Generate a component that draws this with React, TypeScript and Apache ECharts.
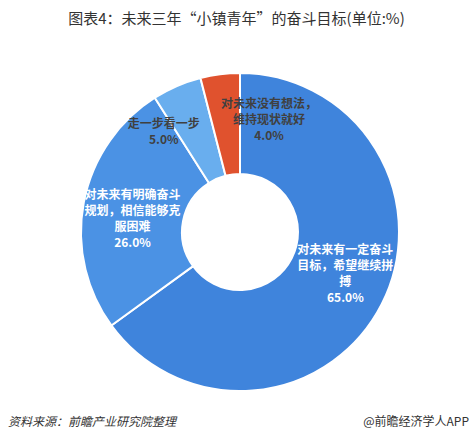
import React, { useEffect, useRef } from "react";
import * as echarts from "echarts";

const categories = [
  "对未来有一定奋斗\n目标，希望继续拼\n搏",
  "对未来有明确奋斗\n规划，相信能够克\n服困难",
  "走一步看一步",
  "对未来没有想法，\n维持现状就好",
];
const values = [65.0, 26.0, 5.0, 4.0];
const colors = ["#3F84DC", "#4B92E4", "#69AEEE", "#E0522E"];
const labelColors = ["#ffffff", "#ffffff", "#404040", "#404040"];
const labelOffsets: [number, number][] = [
  [6, -10],
  [2, 6],
  [-32, 1],
  [43, -3],
];

const title = "图表4：未来三年“小镇青年”的奋斗目标(单位:%)";
const source = "资料来源：前瞻产业研究院整理";
const brand = "@前瞻经济学人APP";

export default function App() {
  const ref = useRef<HTMLDivElement>(null);
  useEffect(() => {
    if (!ref.current) return;
    const chart = echarts.init(ref.current, null, { renderer: "svg" });
    const font = '"Noto Sans CJK SC", "Microsoft YaHei", sans-serif';
    chart.setOption({
      animation: false,
      backgroundColor: "#ffffff",
      title: {
        text: title,
        left: "center",
        top: 5,
        textStyle: { fontSize: 15, fontWeight: "normal", color: "#333333", fontFamily: font },
      },
      graphic: [
        {
          type: "text",
          left: 8,
          top: 414,
          style: { text: source, fontSize: 12, fontStyle: "italic", fill: "#333333", fontFamily: font },
        },
        {
          type: "text",
          right: 4,
          top: 414,
          style: { text: brand, fontSize: 12, fill: "#333333", fontFamily: font },
        },
      ],
      series: [
        {
          type: "pie",
          center: [240, 232],
          radius: [58, 159],
          startAngle: 90,
          clockwise: true,
          avoidLabelOverlap: false,
          itemStyle: { borderColor: "#ffffff", borderWidth: 2 },
          label: {
            show: true,
            position: "inside",
            fontFamily: font,
            fontSize: 12,
            fontWeight: "bold",
            lineHeight: 16,
            formatter: (p: any) => `${p.name}\n${p.value.toFixed(1)}%`,
          },
          labelLine: { show: false },
          data: categories.map((name, i) => ({
            name,
            value: values[i],
            itemStyle: { color: colors[i] },
            label: { color: labelColors[i], offset: labelOffsets[i] },
          })),
        },
      ],
    });
    return () => chart.dispose();
  }, []);
  return <div ref={ref} style={{ width: 473, height: 444, position: "absolute", left: 0, top: 0 }} />;
}
